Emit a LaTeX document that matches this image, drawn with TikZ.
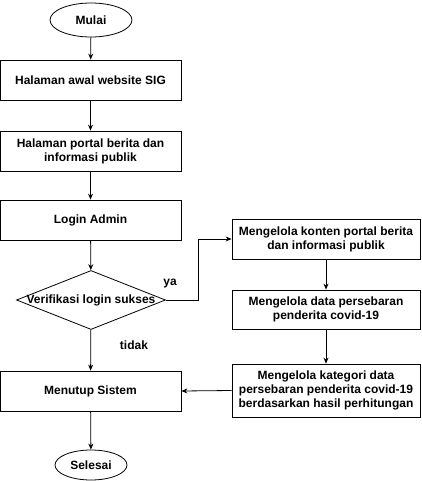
\documentclass[tikz,border=0pt]{standalone}
\usepackage{fontspec}
\setmainfont{Liberation Sans}
\usetikzlibrary{shapes.geometric,arrows.meta}

\begin{document}
\begin{tikzpicture}[x=1pt,y=-1pt]
	% flowchart admin, 1 unit = 1 px
	\tikzset{%
		teks/.style={font=\bfseries\fontsize{12}{13.8}\selectfont,align=center},
		proses/.style={draw,line width=0.8pt,teks,minimum width=181pt,inner sep=0pt},
		terminal/.style={draw,line width=0.8pt,ellipse,teks,inner sep=0pt},
		keputusan/.style={draw,line width=0.8pt,diamond,inner sep=0pt,minimum width=149pt,minimum height=59pt},
		panah/.style={-{Stealth[length=6pt,width=5pt]},line width=0.8pt},
	}

	\useasboundingbox (0,0) rectangle (421,481);

	\node[terminal,minimum width=82pt,minimum height=34pt] (mulai) at (91,20) {Mulai};
	\node[proses,minimum height=40pt] (awal) at (90.5,80) {Halaman awal website SIG};
	\node[proses,minimum height=40pt] (portal) at (90.5,151) {Halaman portal berita dan\\informasi publik};
	\node[proses,minimum height=40pt] (login) at (90.5,220) {Login Admin};
	\node[keputusan,label={[teks]center:Verifikasi login sukses}] (verif) at (91,300) {};
	\node[proses,minimum height=40pt] (tutup) at (90.5,391) {Menutup Sistem};
	\node[terminal,minimum width=72pt,minimum height=30pt] (selesai) at (91,465) {Selesai};

	\node[proses,minimum width=188pt,minimum height=40pt] (konten) at (326,239) {Mengelola konten portal berita\\dan informasi publik};
	\node[proses,minimum width=188pt,minimum height=39pt] (data) at (326,309.5) {Mengelola data persebaran\\penderita covid-19};
	\node[proses,minimum width=188pt,minimum height=53pt] (kategori) at (326,390.5) {Mengelola kategori data\\persebaran penderita covid-19\\berdasarkan hasil perhitungan};

	\node[teks] (ya) at (170,284) {ya};
	\node[teks] (tidak) at (134,345) {tidak};
	\coordinate (belok) at (198,239);

	\draw[panah] (mulai) -- (awal);
	\draw[panah] (awal) -- (portal);
	\draw[panah] (portal) -- (login);
	\draw[panah] (login) -- (verif);
	\draw[panah] (verif) -- (tutup);
	\draw[panah] (tutup) -- (selesai);

	\draw[panah] (verif.east) -| (belok) -- (konten.west);
	\draw[panah] (konten) -- (data);
	\draw[panah] (data) -- (kategori);
	\draw[panah] (kategori.west) -- (tutup.east);
\end{tikzpicture}
\end{document}
